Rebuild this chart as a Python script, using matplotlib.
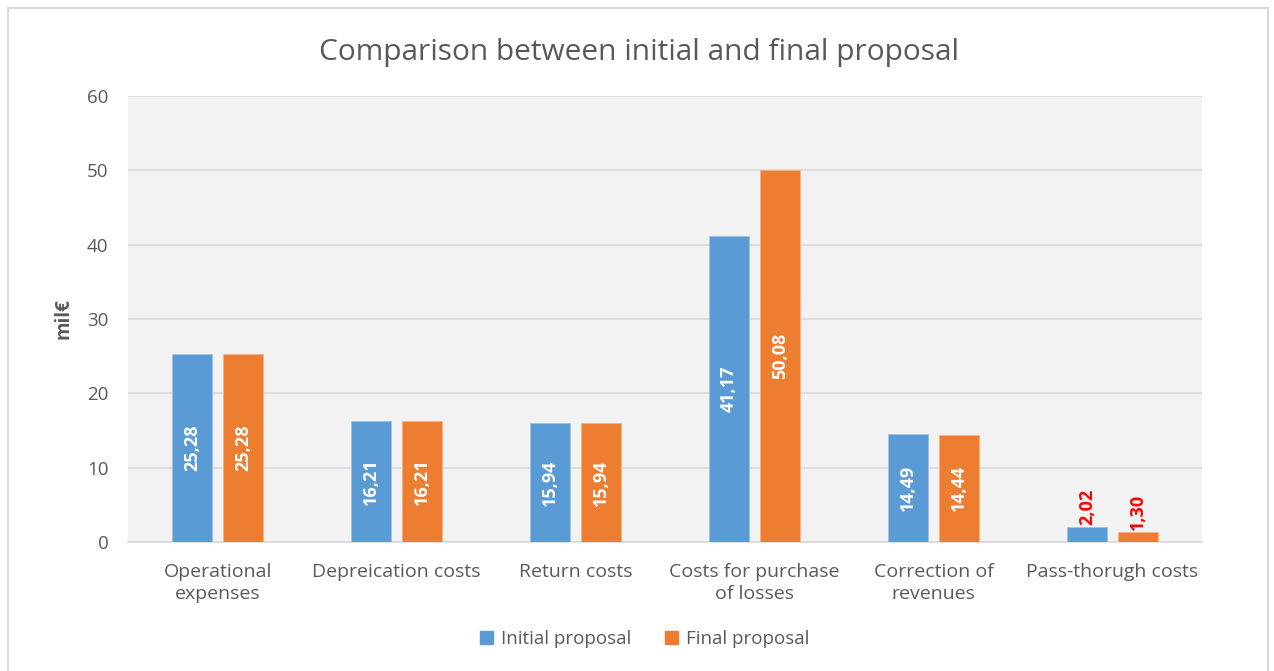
import matplotlib.pyplot as plt
import numpy as np
from matplotlib.patches import Rectangle, Patch

# Datos
categories = ["Operational\nexpenses", "Depreication costs", "Return costs",
              "Costs for purchase\nof losses", "Correction of\nrevenues", "Pass-thorugh costs"]
initial = [25.28, 16.21, 15.94, 41.17, 14.49, 2.02]
final = [25.28, 16.21, 15.94, 50.08, 14.44, 1.30]
series_names = ["Initial proposal", "Final proposal"]
yticks = [0, 10, 20, 30, 40, 50, 60]

blue = "#5B9BD5"
orange = "#ED7D31"
txt = "#595959"

plt.rcParams['font.family'] = ['Open Sans', 'DejaVu Sans']

fig = plt.figure(figsize=(12.74, 6.71), dpi=100)
fig.patches.append(Rectangle((0.006, -0.01), 0.989, 0.998, transform=fig.transFigure,
                             fill=False, edgecolor="#D9D9D9", linewidth=1.5))
ax = fig.add_axes([0.1005, 0.1923, 0.843, 0.6647])
ax.set_facecolor("#F2F2F2")

x = np.arange(len(categories))
w = 0.22
off = 0.143
b1 = ax.bar(x - off, initial, w, color=blue, edgecolor="#9DC3E6", linewidth=0.6, zorder=3)
b2 = ax.bar(x + off, final, w, color=orange, edgecolor="#F4B183", linewidth=0.6, zorder=3)

def fmt(v):
    return f"{v:.2f}".replace(".", ",")

# etiquetas de valor
for bars, vals in ((b1, initial), (b2, final)):
    for r, v in zip(bars, vals):
        cx = r.get_x() + r.get_width() / 2
        if v > 5:
            ax.text(cx, v / 2, fmt(v), rotation=90, ha="center", va="center",
                    color="white", fontsize=13, fontweight="bold", zorder=4)
        else:
            ax.text(cx, v + 0.3, fmt(v), rotation=90, ha="center", va="bottom",
                    color="#FF0000", fontsize=13, fontweight="bold", zorder=4)

ax.set_xlim(-0.5, len(categories) - 0.5)
ax.set_ylim(0, 60)
ax.set_yticks(yticks)
ax.yaxis.grid(True, color="#D9D9D9", linewidth=1.2, zorder=0)
ax.set_axisbelow(True)
for s in ["top", "right", "left"]:
    ax.spines[s].set_visible(False)
ax.spines["bottom"].set_color("#D9D9D9")
ax.spines["bottom"].set_linewidth(1.2)
ax.tick_params(axis="both", length=0, colors=txt, labelsize=13.5)
ax.tick_params(axis="y", pad=14)
ax.tick_params(axis="x", pad=15)
ax.set_xticks(x)
ax.set_xticklabels(categories, fontsize=14, color=txt, linespacing=1.3)
ax.set_ylabel("mil€", fontsize=13.5, color=txt, fontweight="bold", labelpad=10)

fig.text(0.502, 0.922, "Comparison between initial and final proposal",
         ha="center", va="center", fontsize=21.5, color=txt)

handles = [Patch(color=blue), Patch(color=orange)]
fig.legend(handles, series_names, loc="center", bbox_to_anchor=(0.506, 0.047), ncol=2,
           frameon=False, fontsize=13.5, labelcolor=txt, handlelength=0.7, handleheight=0.7,
           columnspacing=1.8, handletextpad=0.4)

plt.savefig("out.png", dpi=100)
